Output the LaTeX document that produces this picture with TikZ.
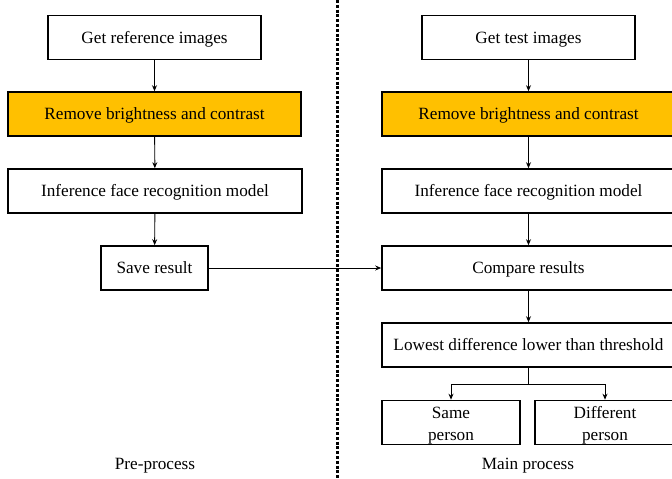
\documentclass[tikz,border=0pt]{standalone}
\usepackage{fontspec}
\setmainfont{Liberation Serif}
\usetikzlibrary{positioning,arrows.meta,calc}
\definecolor{cGold}{HTML}{FFC000}

\begin{document}
\begin{tikzpicture}[x=1pt,y=-1pt,font=\fontsize{17.2}{22}\selectfont,>={Stealth[length=6pt,width=5pt]},
  frame/.style={draw,line width=1.6pt,align=center,minimum height=44pt,inner sep=0pt,fill=white},
  box/.style={frame,text height=14.5pt,text depth=3pt},
  dbox/.style={frame,text height=36pt,text depth=1pt},
  hi/.style={box,fill=cGold},
  con/.style={line width=0.9pt},
  lab/.style={inner sep=0pt,text height=14.5pt,text depth=3pt}]
\useasboundingbox (0,0) rectangle (672,479);
\clip (0,0) rectangle (672,479);
% ---------- pre-process ----------
\node[box,minimum width=213pt] (refL) at (154.5,37.5) {Get reference images};
\node[hi,minimum width=293pt] (rmL) at (154.5,114) {Remove brightness and contrast};
\node[box,minimum width=294pt] (infL) at (155,191) {Inference face recognition model};
\node[box,minimum width=107pt] (save) at (154.5,268) {Save result};
\node[lab] (pre) at (155,464) {Pre-process};
\foreach \a/\b in {refL/rmL,rmL/infL,infL/save}{\draw[->,con] (\a)--(\b);}
% ---------- divider ----------
\coordinate (dT) at (337,0);
\coordinate (dB) at (337,479);
\draw[line width=3pt,dash pattern=on 3pt off 1.8pt] (dT)--(dB);
% ---------- main process ----------
\node[box,minimum width=213pt] (test) at (528.5,37.5) {Get test images};
\node[hi,minimum width=293pt] (rmR) at (528.5,114) {Remove brightness and contrast};
\node[box,minimum width=293pt] (infR) at (528.5,191) {Inference face recognition model};
\node[box,minimum width=293pt] (cmp) at (528.5,268) {Compare results};
\node[box,minimum width=293pt] (low) at (528.5,345) {Lowest difference lower than threshold};
\node[dbox,minimum width=138pt] (same) at (451,422.5) {Same\\ person};
\node[dbox,minimum width=140pt] (diff) at (605,422.5) {Different\\ person};
\node[lab] (main) at (528,464) {Main process};
\foreach \a/\b in {test/rmR,rmR/infR,infR/cmp,cmp/low}{\draw[->,con] (\a)--(\b);}
\draw[->,con] (save)--(cmp);
\coordinate (fork) at ($(low.south)+(0,17)$);
\draw[con] (low.south)--(fork);
\draw[->,con] (fork)-|(same.north);
\draw[->,con] (fork)-|(diff.north);
\end{tikzpicture}
\end{document}
